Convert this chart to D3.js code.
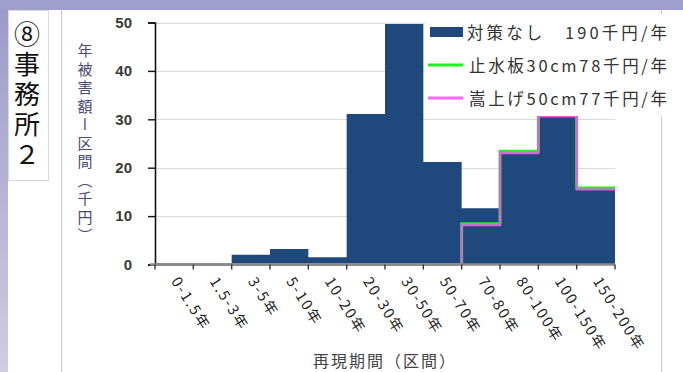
<!DOCTYPE html>
<html>
<head>
<meta charset="utf-8">
<script src="https://cdn.jsdelivr.net/npm/d3@7/dist/d3.min.js"></script>
<style>
  html, body { margin: 0; padding: 0; background: #ffffff; }
  svg { display: block; }
</style>
</head>
<body>
<svg id="chart" width="683" height="372"></svg>
<script>
// Return-period bins and annual damage per bin (thousand yen)
const categories = ["0-1.5年", "1.5-3年", "3-5年", "5-10年", "10-20年", "20-30年",
                    "30-50年", "50-70年", "70-80年", "80-100年", "100-150年", "150-200年"];
const noMeasure  = [0, 0, 2.0, 3.2, 1.5, 31.1, 49.7, 21.2, 11.6, 23.0, 30.7, 15.4];
const waterStop  = [0, 0, 0, 0, 0, 0, 0, 0, 8.4, 23.4, 30.9, 15.8];
const raised     = [0, 0, 0, 0, 0, 0, 0, 0, 8.1, 23.0, 30.6, 15.5];
const yTicks     = [0, 10, 20, 30, 40, 50];
const seriesNames = ["対策なし　190千円/年", "止水板30cm78千円/年", "嵩上げ50cm77千円/年"];
const sideTitle  = "⑧事務所２";
const yTitle     = "年被害額ー区間（千円）";
const xTitle     = "再現期間（区間）";

const svg = d3.select("#chart");
const W = 683, H = 372;
const jp = "'Noto Sans CJK JP', 'Noto Sans', sans-serif";

// page background: lavender frame on top and left
const defs = svg.append("defs");
const grad = defs.append("linearGradient").attr("id", "side").attr("x1", 0).attr("y1", 0).attr("x2", 0).attr("y2", 1);
grad.append("stop").attr("offset", "0%").attr("stop-color", "#9c9ac7");
grad.append("stop").attr("offset", "100%").attr("stop-color", "#cdcde3");
svg.append("rect").attr("width", W).attr("height", H).attr("fill", "#ffffff");
svg.append("rect").attr("x", 0).attr("y", 0).attr("width", 8).attr("height", H).attr("fill", "url(#side)");
svg.append("rect").attr("x", 0).attr("y", 0).attr("width", W).attr("height", 10).attr("fill", "#a09fcb");

// side label box with vertical title
svg.append("rect").attr("x", 8.5).attr("y", 10.5).attr("width", 40).attr("height", 170)
  .attr("fill", "#ffffff").attr("stroke", "#d8d8d8");
svg.append("text")
  .attr("x", 27).attr("y", 21)
  .attr("writing-mode", "vertical-rl")
  .style("text-orientation", "upright")
  .attr("font-family", jp).attr("font-size", 26).attr("letter-spacing", 4)
  .attr("fill", "#111").text(sideTitle);

// panel borders
svg.append("line").attr("x1", 61.5).attr("x2", 61.5).attr("y1", 10).attr("y2", H).attr("stroke", "#c8c8c8");
svg.append("line").attr("x1", 661.5).attr("x2", 661.5).attr("y1", 10).attr("y2", H).attr("stroke", "#c8c8c8");

// scales
const x = d3.scaleBand().domain(categories).range([155, 615]).padding(0);
const y = d3.scaleLinear().domain([0, 50]).range([264.5, 22.5]);

// gridlines
svg.append("g").selectAll("line").data(yTicks.slice(1)).join("line")
  .attr("x1", 155).attr("x2", 615)
  .attr("y1", d => Math.round(y(d)) + 0.5).attr("y2", d => Math.round(y(d)) + 0.5)
  .attr("stroke", "#d9d9d9").attr("stroke-width", 1.2);

// bin edges: left edge of every band plus the right end of the last one
const edges = categories.map(c => x(c)).concat([x(categories[categories.length - 1]) + x.bandwidth()]);
function stepPoints(vals) {
  return edges.map((e, i) => [e, vals[Math.min(i, vals.length - 1)]]);
}

// zero-gap histogram bars as one stepped area
const barArea = d3.area().x(d => d[0]).y0(y(0)).y1(d => y(d[1])).curve(d3.curveStepAfter);
svg.append("path").attr("d", barArea(stepPoints(noMeasure)))
  .attr("fill", "#1f497d");

// step lines for the two countermeasures
const stepLine = d3.line().x(d => d[0]).y(d => y(d[1])).curve(d3.curveStepAfter);
svg.append("path").attr("d", stepLine(stepPoints(waterStop)))
  .attr("fill", "none").attr("stroke", "#22ee22").attr("stroke-width", 3);
svg.append("path").attr("d", stepLine(stepPoints(raised)))
  .attr("fill", "none").attr("stroke", "#ee55ee").attr("stroke-width", 2);

// y axis
const yAxis = svg.append("g").attr("transform", "translate(155,0)")
  .call(d3.axisLeft(y).tickValues(yTicks).tickSize(7).tickPadding(16).tickFormat(d3.format("d")));
yAxis.select(".domain").attr("stroke", "#111").attr("stroke-width", 1.6);
yAxis.selectAll(".tick line").attr("stroke", "#111").attr("stroke-width", 1.4);
yAxis.selectAll(".tick text").attr("font-family", "'Liberation Sans', Arial, sans-serif")
  .attr("font-size", 15).attr("font-weight", "bold").attr("fill", "#3a3a3a");

// x axis
const xAxis = svg.append("g").attr("transform", `translate(0,${y(0)})`);
xAxis.append("line").attr("x1", 150).attr("x2", 615).attr("y1", 0).attr("y2", 0)
  .attr("stroke", "#8a8a8a").attr("stroke-width", 2.5);
xAxis.selectAll("line.tk").data(edges).join("line").attr("class", "tk")
  .attr("x1", d => d).attr("x2", d => d).attr("y1", 0).attr("y2", 5)
  .attr("stroke", "#333").attr("stroke-width", 1.4);
xAxis.selectAll("text").data(categories).join("text")
  .attr("transform", d => `translate(${x(d) + x.bandwidth() / 2 + 1},${14}) rotate(58)`)
  .attr("dy", "0.35em")
  .attr("font-family", jp).attr("font-size", 14.5).attr("fill", "#222")
  .attr("letter-spacing", 2)
  .text(d => d);

// axis titles
svg.append("text")
  .attr("x", 85).attr("y", 43)
  .attr("writing-mode", "vertical-rl")
  .attr("font-family", jp).attr("font-size", 15).attr("letter-spacing", 3.5).attr("fill", "#4a4a7a")
  .text(yTitle);
svg.append("text").attr("x", 385).attr("y", 360)
  .attr("text-anchor", "middle").attr("dominant-baseline", "central")
  .attr("font-family", jp).attr("font-size", 16).attr("letter-spacing", 2).attr("fill", "#444")
  .text(xTitle);

// legend
const legend = svg.append("g");
legend.append("rect").attr("x", 425).attr("y", 14).attr("width", 245).attr("height", 102).attr("fill", "#ffffff");
const rows = legend.selectAll("g").data(seriesNames).join("g")
  .attr("transform", (d, i) => `translate(0,${32 + i * 33})`);
rows.each(function (d, i) {
  const g = d3.select(this);
  if (i === 0) {
    g.append("rect").attr("x", 430).attr("y", -5).attr("width", 33).attr("height", 10).attr("fill", "#1f497d");
  } else {
    g.append("line").attr("x1", 428).attr("x2", 463).attr("y1", 0).attr("y2", 0)
      .attr("stroke", i === 1 ? "#22ee22" : "#ff66ff").attr("stroke-width", 3);
  }
  g.append("text").attr("x", i === 0 ? 467 : 469).attr("y", 0).attr("dominant-baseline", "central")
    .attr("font-family", jp).attr("font-size", 16.5).attr("fill", "#333")
    .attr("textLength", i === 0 ? 200 : 198).attr("lengthAdjust", "spacing")
    .text(d);
});
</script>
</body>
</html>
